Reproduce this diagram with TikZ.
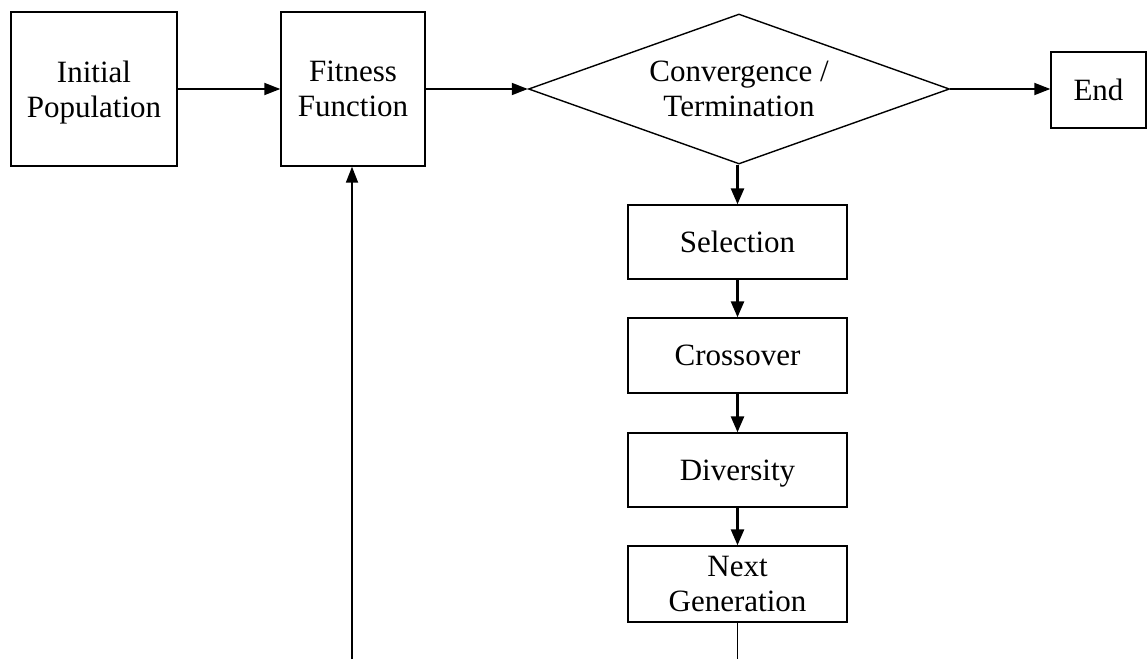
\documentclass[tikz,border=0pt]{standalone}
\usepackage{fontspec}
\setmainfont{Liberation Serif}
\usetikzlibrary{shapes.geometric,arrows.meta}
\begin{document}
\begin{tikzpicture}[x=1pt,y=-1pt,
  every node/.style={font=\fontsize{31}{35}\selectfont, align=center, inner sep=0pt, text depth=0pt},
  box/.style={draw, line width=1.4pt},
  dia/.style={draw, line width=1.4pt, shape=diamond, shape aspect=2.8},
  harrow/.style={line width=1.8pt, -{Triangle[length=16pt,width=12pt]}},
  varrow/.style={line width=2.6pt, -{Triangle[length=16pt,width=13pt]}},
  plainline/.style={line width=1.6pt}]
\useasboundingbox (0,0) rectangle (1148,659);
\node[box, minimum width=166pt, minimum height=154pt] (init) at (94,89) {Initial\\Population};
\node[box, minimum width=144pt, minimum height=154pt] (fit) at (353,89) {Fitness\\Function};
\node[dia, minimum width=421pt, minimum height=150pt] (conv) at (739,89) {Convergence /\\Termination};
\node[box, minimum width=95pt, minimum height=76pt] (end) at (1098.5,90) {End};
\node[box, minimum width=219pt, minimum height=74pt] (sel) at (737.5,242) {Selection};
\node[box, minimum width=219pt, minimum height=75pt] (cross) at (737.5,355.5) {Crossover};
\node[box, minimum width=219pt, minimum height=74pt] (div) at (737.5,470) {Diversity};
\node[box, minimum width=219pt, minimum height=76pt] (next) at (737.5,584) {Next\\Generation};
\coordinate (bl) at (352,659);
\coordinate (br) at (737.5,659);
\draw[harrow] (init.east) -- (fit.west);
\draw[harrow] (fit.east) -- (conv.west);
\draw[harrow] (conv.east) -- (end.west |- conv.east);
\draw[varrow] (conv.south -| sel.north) -- (sel.north);
\draw[varrow] (sel.south) -- (cross.north);
\draw[varrow] (cross.south) -- (div.north);
\draw[varrow] (div.south) -- (next.north);
\draw[plainline] (next.south) -- (br);
\draw[harrow] (bl) -- (bl |- fit.south);
\end{tikzpicture}
\end{document}
